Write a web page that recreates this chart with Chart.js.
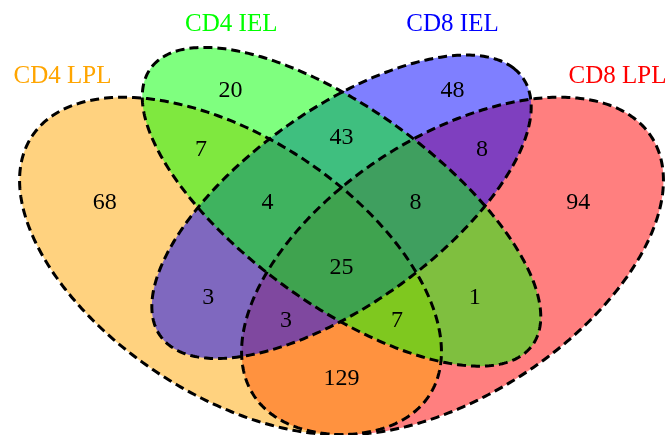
<!DOCTYPE html>
<html>
<head>
<meta charset="utf-8">
<title>Venn diagram</title>
<script src="https://cdn.jsdelivr.net/npm/chart.js@4"></script>
<style>
    html, body { margin: 0; padding: 0; background: #ffffff; }
    #vennChart { display: block; }
</style>
</head>
<body>
<canvas id="vennChart" width="670" height="435"></canvas>
<script>
// Set names, in drawing order (first drawn sits at the bottom)
const setNames = ['CD8 LPL', 'CD4 LPL', 'CD8 IEL', 'CD4 IEL'];

// Count in each region of the diagram
const regionNames = [
    'CD4 IEL only', 'CD8 IEL only',
    'CD4 LPL & CD4 IEL', 'CD4 IEL & CD8 IEL', 'CD8 IEL & CD8 LPL',
    'CD4 LPL only', 'CD4 LPL & CD4 IEL & CD8 IEL', 'CD4 IEL & CD8 IEL & CD8 LPL', 'CD8 LPL only',
    'all four',
    'CD4 LPL & CD8 IEL', 'CD4 IEL & CD8 LPL',
    'CD4 LPL & CD8 IEL & CD8 LPL', 'CD4 LPL & CD4 IEL & CD8 LPL',
    'CD4 LPL & CD8 LPL'
];
const regionCounts = [20, 48, 7, 43, 8, 68, 4, 8, 94, 25, 3, 1, 3, 7, 129];

// ---- layout (unit square of the venn drawing) ----
const setColors = ['#ff0000', '#ffa500', '#0000ff', '#00ff00'];
// [x, y, a, b, rotation in degrees]
const ellipses = [
    [0.65, 0.47, 0.35, 0.20, 45],
    [0.35, 0.47, 0.35, 0.20, 135],
    [0.50, 0.57, 0.33, 0.15, 45],
    [0.50, 0.57, 0.35, 0.15, 135]
];
const setLabelPos = [
    [0.873, 0.793], [0.123, 0.793], [0.650, 0.881], [0.351, 0.881]
];
const regionPos = [
    [0.35, 0.77], [0.65, 0.77],
    [0.31, 0.67], [0.50, 0.69], [0.69, 0.67],
    [0.18, 0.58], [0.40, 0.58], [0.60, 0.58], [0.82, 0.58],
    [0.50, 0.47],
    [0.32, 0.42], [0.68, 0.42],
    [0.425, 0.38], [0.575, 0.38],
    [0.50, 0.283]
];

const FONT = '"Liberation Serif", "Times New Roman", serif';

const vennPlugin = {
    id: 'vennEllipses',
    beforeDatasetsDraw(chart) {
        const ctx = chart.ctx;
        const xs = chart.scales.x;
        const ys = chart.scales.y;

        function tracePath(e) {
            const [cx, cy, a, b, rot] = e;
            const r = rot * Math.PI / 180;
            ctx.beginPath();
            for (let i = 0; i <= 360; i++) {
                const t = i * Math.PI / 180;
                const ux = a * Math.cos(t), uy = b * Math.sin(t);
                const x = cx + ux * Math.cos(r) - uy * Math.sin(r);
                const y = cy + ux * Math.sin(r) + uy * Math.cos(r);
                const px = xs.getPixelForValue(x);
                const py = ys.getPixelForValue(y);
                if (i === 0) ctx.moveTo(px, py); else ctx.lineTo(px, py);
            }
            ctx.closePath();
        }

        ctx.save();
        // fills first
        ellipses.forEach((e, i) => {
            tracePath(e);
            ctx.globalAlpha = 0.5;
            ctx.fillStyle = setColors[i];
            ctx.fill();
        });
        // then dashed outlines
        ctx.globalAlpha = 1;
        ctx.strokeStyle = '#000000';
        ctx.lineWidth = 3;
        ctx.setLineDash([9, 5]);
        ellipses.forEach(e => {
            tracePath(e);
            ctx.stroke();
        });
        ctx.restore();
    },
    afterDatasetsDraw(chart) {
        const ctx = chart.ctx;
        ctx.save();
        ctx.textAlign = 'center';
        ctx.textBaseline = 'alphabetic';

        // region counts
        const counts = chart.getDatasetMeta(0).data;
        ctx.fillStyle = '#000000';
        ctx.font = '24px ' + FONT;
        counts.forEach((pt, i) => {
            ctx.fillText(String(regionCounts[i]), pt.x, pt.y + 8.2);
        });

        // set names
        const labels = chart.getDatasetMeta(1).data;
        ctx.font = '25px ' + FONT;
        labels.forEach((pt, i) => {
            ctx.fillStyle = setColors[i];
            ctx.fillText(setNames[i], pt.x, pt.y + 8.5);
        });
        ctx.restore();
    }
};

const ctx = document.getElementById('vennChart').getContext('2d');
new Chart(ctx, {
    type: 'scatter',
    data: {
        datasets: [
            {
                label: 'regions',
                data: regionPos.map(p => ({ x: p[0], y: p[1] })),
                pointRadius: 0
            },
            {
                label: 'sets',
                data: setLabelPos.map(p => ({ x: p[0], y: p[1] })),
                pointRadius: 0
            }
        ]
    },
    options: {
        responsive: false,
        animation: false,
        layout: { padding: 0 },
        plugins: {
            legend: { display: false },
            tooltip: { enabled: false }
        },
        scales: {
            x: { type: 'linear', display: false, min: 0.0385, max: 0.9439 },
            y: { type: 'linear', display: false, min: 0.1845, max: 0.9193 }
        }
    },
    plugins: [vennPlugin]
});
</script>
</body>
</html>
